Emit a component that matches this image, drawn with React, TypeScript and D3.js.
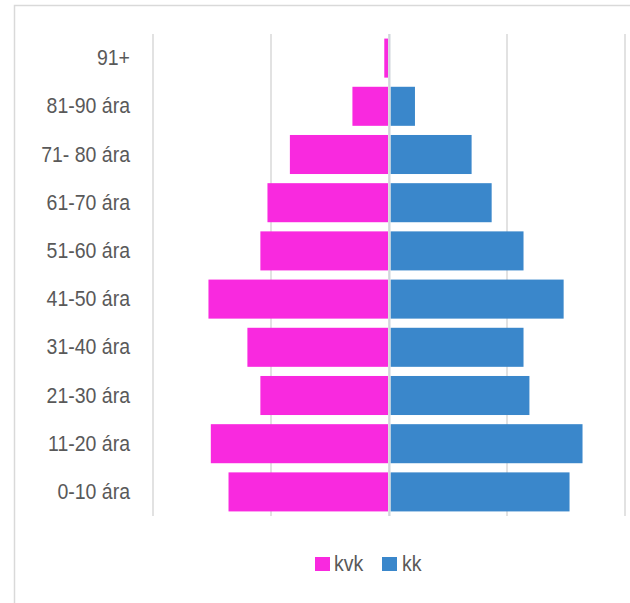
import React from "react";
import * as d3 from "d3";

const categories = ["0-10 ára", "11-20 ára", "21-30 ára", "31-40 ára", "41-50 ára", "51-60 ára", "61-70 ára", "71- 80 ára", "81-90 ára", "91+"];
const kvk = [136, 151, 109, 120, 153, 109, 103, 84, 31, 4];
const kk = [153, 164, 119, 114, 148, 114, 87, 70, 22, 0];
const gridTicks = [-200, -100, 0, 100, 200];
const seriesNames = ["kvk", "kk"];
const colors = ["#F929DF", "#3A87CB"];

export default function App() {
  const W = 630, H = 603;
  const plotTop = 34, plotBottom = 516;
  const x = d3.scaleLinear().domain([-200, 200]).range([153, 625]);
  const y = d3.scaleBand<string>()
    .domain([...categories].reverse())
    .range([plotTop, plotBottom])
    .paddingInner(0.19)
    .paddingOuter(0.095);
  const font = "'Liberation Sans', Arial, sans-serif";
  const textColor = "#595959";
  return (
    <svg width={W} height={H} style={{ position: "absolute", left: 0, top: 0, background: "#fff" }}>
      <rect x={14.5} y={5.5} width={700} height={700} fill="#fff" stroke="#d9d9d9" strokeWidth={1.5} />
      {gridTicks.map((t) => (
        <line key={t} x1={x(t)} x2={x(t)} y1={plotTop} y2={plotBottom} stroke="#d9d9d9" strokeWidth={1.5} />
      ))}
      {categories.map((c, i) => (
        <g key={c}>
          <rect x={x(-kvk[i])} y={y(c)} width={Math.max(0, x(0) - 1 - x(-kvk[i]))} height={y.bandwidth()} fill={colors[0]} />
          {kk[i] > 0 && (
            <rect x={x(0) + 1.5} y={y(c)} width={Math.max(0, x(kk[i]) - x(0) - 1.5)} height={y.bandwidth()} fill={colors[1]} />
          )}
        </g>
      ))}
      <line x1={x(0) + 0.5} x2={x(0) + 0.5} y1={plotTop} y2={plotBottom} stroke="#d0d5dc" strokeWidth={2} />
      {categories.map((c) => {
        const cy = (y(c) as number) + y.bandwidth() / 2;
        return (
          <text key={c} transform={`translate(130,${cy + 7}) scale(1,1.14)`} textAnchor="end" fontFamily={font} fontSize={19.5} fill={textColor}>
            {c}
          </text>
        );
      })}
      <g>
        <rect x={315} y={557} width={15} height={14} fill={colors[0]} />
        <text transform="translate(334,571) scale(1,1.14)" fontFamily={font} fontSize={19.5} fill={textColor}>{seriesNames[0]}</text>
        <rect x={382} y={557} width={15} height={14} fill={colors[1]} />
        <text transform="translate(402,571) scale(1,1.14)" fontFamily={font} fontSize={19.5} fill={textColor}>{seriesNames[1]}</text>
      </g>
    </svg>
  );
}
